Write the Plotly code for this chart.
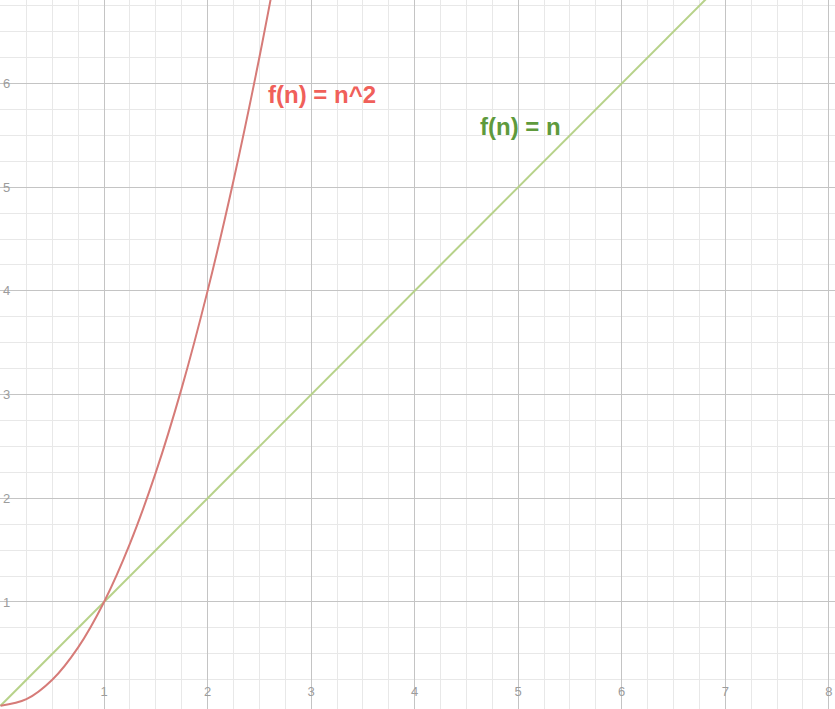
import plotly.graph_objects as go

# Data
n_sq = [0, 0.25, 0.5, 0.75, 1.0, 1.25, 1.5, 1.75, 2.0, 2.25, 2.5, 2.75]
f_sq = [0, 0.0625, 0.25, 0.5625, 1.0, 1.5625, 2.25, 3.0625, 4.0, 5.0625, 6.25, 7.5625]
n_lin = [0, 1, 2, 3, 4, 5, 6, 7, 8]
f_lin = [0, 1, 2, 3, 4, 5, 6, 7, 8]
x_ticks = [1, 2, 3, 4, 5, 6, 7, 8]
y_ticks = [1, 2, 3, 4, 5, 6]
label_sq = "f(n) = n^2"
label_lin = "f(n) = n"

fig = go.Figure()
fig.add_trace(go.Scatter(x=n_lin, y=f_lin, mode="lines",
                         line=dict(color="#b7d28a", width=2), hoverinfo="skip"))
fig.add_trace(go.Scatter(x=n_sq, y=f_sq, mode="lines",
                         line=dict(color="#d67b78", width=2, shape="spline"), hoverinfo="skip"))

fig.add_annotation(x=2.56, y=5.89, text="<b>" + label_sq + "</b>", showarrow=False,
                   xanchor="left", yanchor="middle",
                   font=dict(family="Liberation Sans, Arial", size=24, color="#f0605a"))
fig.add_annotation(x=4.61, y=5.59, text="<b>" + label_lin + "</b>", showarrow=False,
                   xanchor="left", yanchor="middle",
                   font=dict(family="Liberation Sans, Arial", size=24, color="#5e9a3c"))

tickfont = dict(family="Liberation Sans, Arial", size=13, color="#9c9c9c")

fig.update_layout(
    width=835, height=709,
    margin=dict(l=0, r=0, t=0, b=0),
    paper_bgcolor="white", plot_bgcolor="white",
    showlegend=False,
    font=dict(family="Liberation Sans, Arial", size=13, color="#9c9c9c"),
)
fig.update_xaxes(range=[-0.005, 8.06], tickvals=x_ticks, ticktext=[str(v) for v in x_ticks],
                 ticklabelposition="inside", ticklabelstandoff=7, ticks="", tickfont=tickfont,
                 showgrid=True, gridcolor="#c4c4c4", gridwidth=1,
                 minor=dict(dtick=0.25, tick0=0, showgrid=True, gridcolor="#e8e8e8", gridwidth=1),
                 zeroline=True, zerolinecolor="#d0d0d0", zerolinewidth=2,
                 showline=False, fixedrange=True)
fig.update_yaxes(range=[-0.032, 6.805], tickvals=y_ticks, ticktext=[str(v) for v in y_ticks],
                 ticklabelposition="inside", ticks="", tickfont=tickfont,
                 showgrid=True, gridcolor="#c4c4c4", gridwidth=1,
                 minor=dict(dtick=0.25, tick0=0, showgrid=True, gridcolor="#e8e8e8", gridwidth=1),
                 zeroline=True, zerolinecolor="#333333", zerolinewidth=2,
                 showline=False, fixedrange=True)

fig.write_html("out.html", config={"displayModeBar": False},
               post_script="document.body.style.margin='0';")
